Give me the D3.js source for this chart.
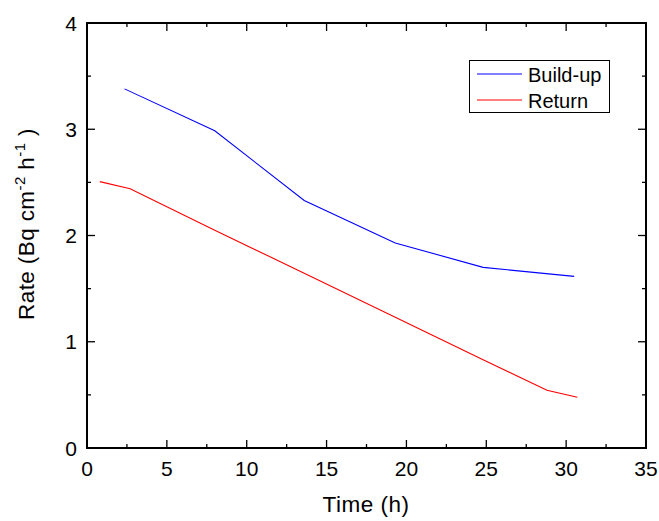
<!DOCTYPE html>
<html>
<head>
<meta charset="utf-8">
<script src="https://cdn.jsdelivr.net/npm/d3@7"></script>
<style>
  html, body { margin: 0; padding: 0; background: #fff; }
  svg { display: block; font-family: "Liberation Sans", Arial, sans-serif; }
</style>
</head>
<body>
<svg id="chart" width="659" height="521"></svg>
<script>
// Measured decay rates over time
const buildUpTime = [2.35, 8.0, 13.6, 19.3, 24.8, 30.5];
const buildUpRate = [3.38, 2.985, 2.33, 1.93, 1.70, 1.615];

const returnTime = [0.8, 2.7, 8.0, 13.6, 19.3, 24.8, 28.8, 30.7];
const returnRate = [2.507, 2.44, 2.05, 1.645, 1.23, 0.83, 0.544, 0.478];

const xTicks = [0, 5, 10, 15, 20, 25, 30, 35];
const yTicks = [0, 1, 2, 3, 4];
const seriesNames = ["Build-up", "Return"];

const svg = d3.select("#chart");
const plotL = 87, plotR = 646, plotT = 23, plotB = 448;

const x = d3.scaleLinear().domain([0, 35]).range([plotL, plotR]);
const y = d3.scaleLinear().domain([0, 4]).range([plotB, plotT]);

const minorX = d3.range(2.5, 35, 5);
const minorY = d3.range(0.5, 4, 1);

// inward ticks on all four sides
const ticks = svg.append("g").attr("stroke", "#000").attr("stroke-width", 1.3);
function tickSet(vals, len, axis) {
  vals.forEach(v => {
    if (axis === "x") {
      ticks.append("line").attr("x1", x(v)).attr("x2", x(v)).attr("y1", plotB).attr("y2", plotB - len);
      ticks.append("line").attr("x1", x(v)).attr("x2", x(v)).attr("y1", plotT).attr("y2", plotT + len);
    } else {
      ticks.append("line").attr("y1", y(v)).attr("y2", y(v)).attr("x1", plotL).attr("x2", plotL + len);
      ticks.append("line").attr("y1", y(v)).attr("y2", y(v)).attr("x1", plotR).attr("x2", plotR - len);
    }
  });
}
tickSet(xTicks, 8, "x");
tickSet(minorX, 4, "x");
tickSet(yTicks, 8, "y");
tickSet(minorY, 4, "y");

// frame
svg.append("rect")
  .attr("x", plotL).attr("y", plotT)
  .attr("width", plotR - plotL).attr("height", plotB - plotT)
  .attr("fill", "none").attr("stroke", "#000").attr("stroke-width", 2);

// tick labels
svg.append("g").selectAll("text").data(xTicks).join("text")
  .attr("x", d => x(d)).attr("y", 476)
  .attr("text-anchor", "middle").attr("font-size", 21)
  .text(d => d);

svg.append("g").selectAll("text").data(yTicks).join("text")
  .attr("x", 77).attr("y", d => y(d) + 7.5)
  .attr("text-anchor", "end").attr("font-size", 21)
  .text(d => d);

// axis titles
svg.append("text")
  .attr("x", 366).attr("y", 512)
  .attr("text-anchor", "middle").attr("font-size", 22.5)
  .attr("letter-spacing", 0.5)
  .text("Time (h)");

const yl = svg.append("text")
  .attr("transform", "translate(34,224) rotate(-90)")
  .attr("text-anchor", "middle").attr("font-size", 22.5)
  .attr("letter-spacing", 0.4);
yl.append("tspan").text("Rate (Bq cm");
yl.append("tspan").attr("dy", -9).attr("font-size", 15).text("-2");
yl.append("tspan").attr("dy", 9).text(" h");
yl.append("tspan").attr("dy", -9).attr("font-size", 15).text("-1");
yl.append("tspan").attr("dy", 9).text(" )");

// series
const line = d3.line().x(d => x(d[0])).y(d => y(d[1]));
const buildUp = buildUpTime.map((t, i) => [t, buildUpRate[i]]);
const ret = returnTime.map((t, i) => [t, returnRate[i]]);

svg.append("path").datum(buildUp).attr("d", line)
  .attr("fill", "none").attr("stroke", "#0000ff").attr("stroke-width", 1.1);
svg.append("path").datum(ret).attr("d", line)
  .attr("fill", "none").attr("stroke", "#ff0000").attr("stroke-width", 1.1);

// legend
const lg = svg.append("g");
lg.append("rect").attr("x", 469.5).attr("y", 60.5).attr("width", 140).attr("height", 52)
  .attr("fill", "#fff").attr("stroke", "#000").attr("stroke-width", 1);
const colors = ["#0000ff", "#ff0000"];
seriesNames.forEach((name, i) => {
  const ly = 74 + i * 26;
  lg.append("line").attr("x1", 477).attr("x2", 522).attr("y1", ly).attr("y2", ly)
    .attr("stroke", colors[i]).attr("stroke-width", 1.1);
  lg.append("text").attr("x", 528).attr("y", ly + 7.5)
    .attr("font-size", 20).text(name);
});
</script>
</body>
</html>
